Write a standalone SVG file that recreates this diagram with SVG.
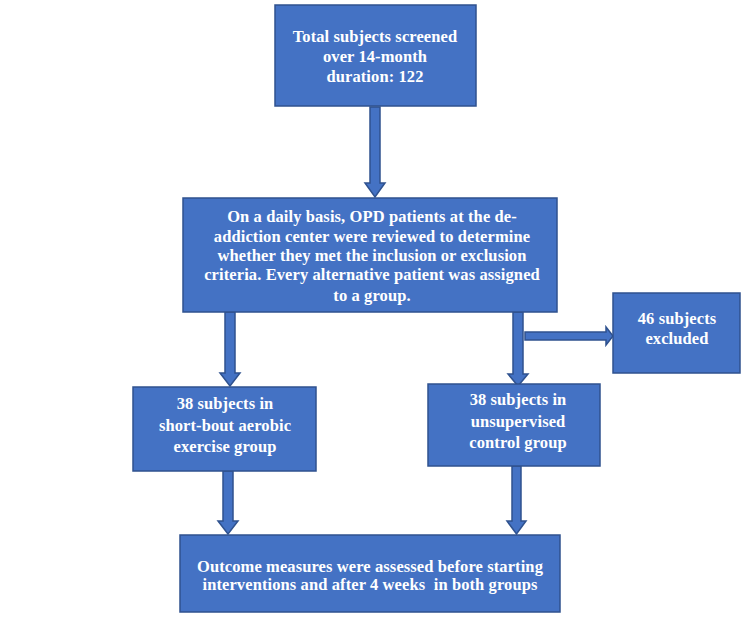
<svg xmlns="http://www.w3.org/2000/svg" width="750" height="618" viewBox="0 0 750 618">
<style>
.box{fill:#4472C4;stroke:#2F528F;stroke-width:1.5}
.arr{fill:#4472C4;stroke:#2F528F;stroke-width:1.5;stroke-linejoin:miter}
text{font-family:"Liberation Serif","Times New Roman",serif;font-weight:bold;font-size:16.5px;letter-spacing:0.1px;fill:#fff;text-anchor:middle}
</style>
<rect width="750" height="618" fill="#fff"/>
<g id="connectors">
<polygon class="arr" points="370,107 380,107 380,183 385,183 375,197 365,183 370,183"/>
<polygon class="arr" points="225,312 235,312 235,373 240,373 230,386 220,373 225,373"/>
<polygon class="arr" points="513,312 523,312 523,374 528,374 518,386 508,374 513,374"/>
<polygon class="arr" points="525,332 606,332 606,327 613,336 606,345 606,340 525,340"/>
<polygon class="arr" points="223,471 233,471 233,521 238,521 228,534 218,521 223,521"/>
<polygon class="arr" points="512,466 521,466 521,521 526,521 516.5,534 507,521 512,521"/>
</g>
<g id="n1"><rect class="box" x="275" y="5" width="201" height="101"/>
<text x="375" y="42">Total subjects screened</text><text x="375" y="62">over 14-month</text><text x="375" y="82">duration: 122</text></g>
<g id="n2"><rect class="box" x="183" y="198" width="374" height="114"/>
<text x="372" y="222">On a daily basis, OPD patients at the de-</text>
<text x="372" y="242">addiction center were reviewed to determine</text>
<text x="372" y="261">whether they met the inclusion or exclusion</text>
<text x="372" y="280">criteria. Every alternative patient was assigned</text>
<text x="372" y="301">to a group.</text></g>
<g id="n3"><rect class="box" x="613" y="293" width="127" height="80"/>
<text x="677" y="324">46 subjects</text><text x="677" y="344">excluded</text></g>
<g id="n4"><rect class="box" x="133" y="387" width="183" height="84"/>
<text x="225" y="409">38 subjects in</text><text x="225" y="431">short-bout aerobic</text><text x="225" y="452">exercise group</text></g>
<g id="n5"><rect class="box" x="428" y="384" width="172" height="82"/>
<text x="518" y="405">38 subjects in</text><text x="518" y="427">unsupervised</text><text x="518" y="448">control group</text></g>
<g id="n6"><rect class="box" x="180" y="535" width="380" height="77"/>
<text x="370" y="572">Outcome measures were assessed before starting</text>
<text x="370" y="590" xml:space="preserve">interventions and after 4 weeks  in both groups</text></g>
</svg>
